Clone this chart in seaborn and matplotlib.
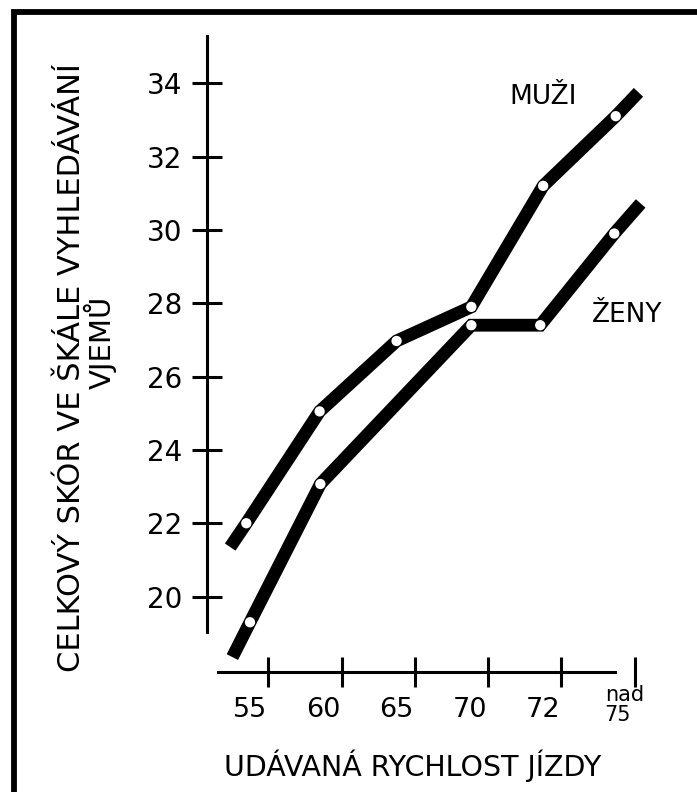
import matplotlib
matplotlib.use("Agg")
import matplotlib.pyplot as plt
from matplotlib.patches import Rectangle
import seaborn as sns
import pandas as pd

# category positions: 0..5 = 55, 60, 65, 70, 72, nad 75
speed_labels = ["55", "60", "65", "70", "72"]
last_label = "nad\n75"
boundaries = [0.25, 1.25, 2.25, 3.25, 4.25, 5.25]
y_ticks = [20, 22, 24, 26, 28, 30, 32, 34]

# MUŽI - first and last entries are the line ends without a marker
muzi_x = [-0.27, -0.05, 0.95, 2.0, 3.02, 4.0, 4.99, 5.3]
muzi_y = [21.35, 22.0, 25.05, 26.97, 27.9, 31.2, 33.1, 33.75]
# ŽENY
zeny_x = [-0.24, 0.0, 0.96, 3.02, 3.96, 4.97, 5.33]
zeny_y = [18.35, 19.3, 23.07, 27.4, 27.4, 29.9, 30.72]

sns.set_style("white")
plt.rcParams['font.family'] = ['DejaVu Sans']
plt.rcParams['text.color'] = 'black'
plt.rcParams['xtick.color'] = 'black'
plt.rcParams['ytick.color'] = 'black'

fig = plt.figure(figsize=(6.97, 7.92), dpi=100)
ax = fig.add_axes([200/697, 1 - 700/792, 460/697, 670/792])

df_m = pd.DataFrame({"x": muzi_x, "y": muzi_y})
df_z = pd.DataFrame({"x": zeny_x, "y": zeny_y})

for df in (df_m, df_z):
    sns.lineplot(data=df, x="x", y="y", ax=ax, color="black", lw=9.2,
                 sort=False, solid_capstyle="butt", solid_joinstyle="miter")
    inner = df.iloc[1:-1]
    sns.scatterplot(data=inner, x="x", y="y", ax=ax, color="white",
                    s=55, edgecolor="none", zorder=5)

ax.set_xlim(-0.682, 5.594)
ax.set_ylim(17.18, 35.45)

for s in ["top", "right"]:
    ax.spines[s].set_visible(False)
ax.spines["left"].set_position(("data", -0.587))
ax.spines["left"].set_bounds(19.03, 35.3)
ax.spines["bottom"].set_position(("data", 17.95))
ax.spines["bottom"].set_bounds(-0.44, 4.98)
for s in ["left", "bottom"]:
    ax.spines[s].set_linewidth(2.2)
    ax.spines[s].set_color("black")

ax.set_yticks(y_ticks)
ax.set_yticklabels([str(v) for v in y_ticks], fontsize=20)
ax.tick_params(axis="y", left=True, direction="inout", length=22, width=2.2,
               pad=7, colors="black")

ax.set_xticks(range(len(speed_labels)))
ax.set_xticklabels(speed_labels, fontsize=19.5)
ax.set_xticks(boundaries, minor=True)
ax.tick_params(axis="x", which="major", bottom=True, length=0, pad=18.5,
               labelcolor="black")
ax.tick_params(axis="x", which="minor", bottom=True, direction="inout",
               length=22, width=2.2, color="black")
ax.text(4.84, 17.58, last_label, fontsize=15, ha="left", va="top",
        multialignment="left", linespacing=1.0)

ax.set_xlabel("")
ax.set_ylabel("")

ax.text(4.0, 33.63, "MUŽI", fontsize=19, ha="center", va="center")
ax.text(5.14, 27.68, "ŽENY", fontsize=19, ha="center", va="center")

fig.text(72/697, 1 - 368/792, "CELKOVÝ SKÓR VE ŠKÁLE VYHLEDÁVÁNÍ",
         rotation=90, fontsize=22, ha="center", va="center")
fig.text(100/697, 1 - 342/792, "VJEMŮ",
         rotation=90, fontsize=21, ha="center", va="center")
fig.text(413/697, 1 - 766/792, "UDÁVANÁ RYCHLOST JÍZDY", fontsize=20.5,
         ha="center", va="center")

# frame, cut at the right and bottom edge
fig.patches.append(Rectangle((14/697, -0.1), 1.2, 1.1 - 12/792,
                             transform=fig.transFigure, fill=False,
                             lw=4.2, edgecolor="black"))

fig.savefig("out.png", dpi=100)
